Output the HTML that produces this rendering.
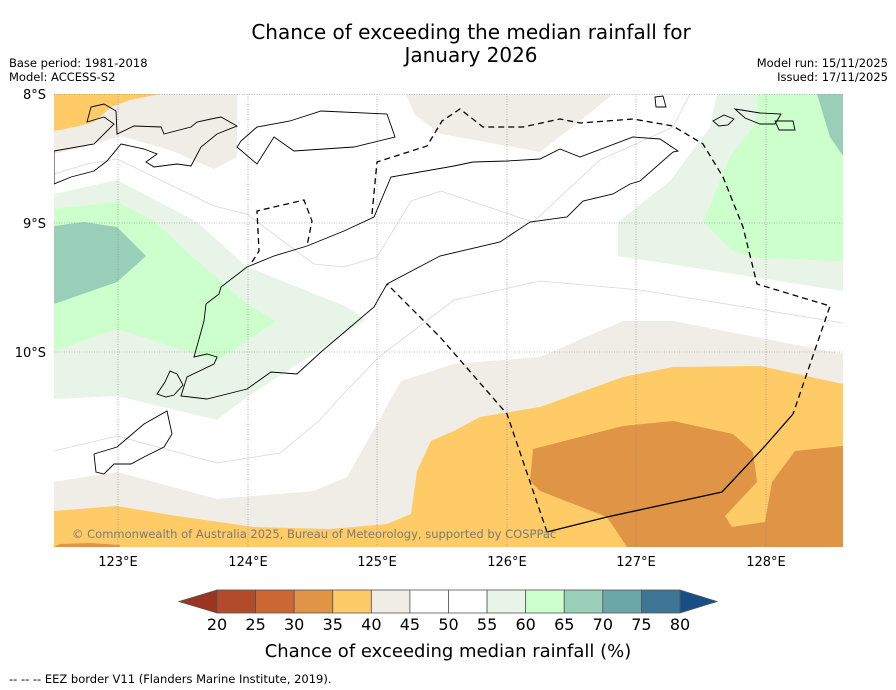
<!DOCTYPE html>
<html><head><meta charset="utf-8"><style>
body{margin:0;background:#fff;width:896px;height:690px;overflow:hidden;font-family:"Liberation Sans","DejaVu Sans",sans-serif}
svg{position:absolute;left:0;top:0}
</style></head><body>
<svg id="s" width="896" height="690" viewBox="0 0 896 690" xmlns="http://www.w3.org/2000/svg" font-family="DejaVu Sans, Liberation Sans, sans-serif">
<text x="471" y="39" text-anchor="middle" font-size="20">Chance of exceeding the median rainfall for</text>
<text x="471" y="62" text-anchor="middle" font-size="20">January 2026</text>
<text x="9" y="67" font-size="11.5">Base period: 1981-2018</text>
<text x="9" y="81" font-size="11.5">Model: ACCESS-S2</text>
<text x="888" y="67" font-size="11.5" text-anchor="end">Model run: 15/11/2025</text>
<text x="888" y="81" font-size="11.5" text-anchor="end">Issued: 17/11/2025</text>
<defs><clipPath id="mc"><rect x="54" y="94" width="789" height="453"/></clipPath></defs>
<g clip-path="url(#mc)">
<rect x="54" y="94" width="789" height="453" fill="#fff"/>
<polygon fill="#f0ece6" points="54,94 237,94 237,157 214,169 170,150 121,136 80,148 54,154"/>
<polygon fill="#fecb66" points="54,94 54,131 75,127 94,122 111,107 130,100 160,94"/>
<polygon fill="#f0ece6" points="406,94 415,115 441,134 540,152 575,125 613,94"/>
<polygon fill="#e8f4e8" points="54,194 117,180 197,222 247,267 347,307 366,320 247,397 217,420 117,396 54,399"/>
<polygon fill="#ccffcc" points="54,209 117,202 154,221 197,261 247,304 276,321 217,361 117,329 54,351"/>
<polygon fill="#99cfb8" points="54,226 84,222 117,227 146,256 117,282 54,304"/>
<polygon fill="#e8f4e8" points="717,94 710,127 670,181 618,222 618,256 843,291 843,94"/>
<polygon fill="#ccffcc" points="758,94 755,124 730,157 703,222 733,251 757,258 843,261 843,94"/>
<polygon fill="#99cfb8" points="817,94 830,137 843,156 843,94"/>
<polygon fill="#f0ece6" points="54,482 117,472 217,499 314,491 347,477 377,424 401,381 454,364 540,357 623,321 673,321 843,354 843,547 54,547"/>
<polygon fill="#fecb66" points="54,547 54,511 117,506 170,515 254,527 330,529 387,524 411,514 417,471 431,441 454,431 480,417 540,407 623,377 673,367 760,366 843,384 843,547"/>
<polygon fill="#e09445" points="533,449 623,426 673,421 733,434 753,452 757,482 725,516 732,527 765,522 772,482 795,451 843,446 843,547 627,547 607,517 540,491 530,481"/>
<polygon fill="#e09445" points="54,547 60,544 90,543 120,545 120,547"/>
<g fill="none" stroke="#d8d8d8" stroke-width="0.8">
<polyline points="54,174 87,164 117,159 214,206 247,214 287,244 314,264 344,267 377,257 411,201 441,191 533,222 600,160 673,127 690,94"/>
<polyline points="54,451 117,436 217,463 280,453 320,420 347,390 380,356 454,300 540,281 640,290 843,323"/>
</g>
<g stroke="#888" stroke-width="0.6" stroke-dasharray="1,1.5">
<line x1="118" y1="94" x2="118" y2="547"/><line x1="248" y1="94" x2="248" y2="547"/><line x1="377" y1="94" x2="377" y2="547"/>
<line x1="507" y1="94" x2="507" y2="547"/><line x1="636" y1="94" x2="636" y2="547"/><line x1="766" y1="94" x2="766" y2="547"/>
<line x1="54" y1="94.5" x2="843" y2="94.5"/><line x1="54" y1="223" x2="843" y2="223"/><line x1="54" y1="352" x2="843" y2="352"/>
</g>
<g fill="none" stroke="#000" stroke-width="0.9">
<polygon points="194,357 204,321 206,304 219,294 221,287 247,267 274,256 307,246 344,231 374,217 391,177 454,166 473,162 507,161 540,159 560,149 580,157 633,137 660,139 678,151 673,152 640,181 630,184 613,194 583,201 567,217 530,222 500,242 440,256 387,284 374,307 321,352 297,374 271,372 247,389 207,399 181,396 187,377 214,364 217,357 207,354"/>
<polygon points="157,394 165,382 170,371 177,374 183,385 174,395 166,397"/>
<polygon points="94,454 117,447 144,424 167,411 172,434 164,447 144,457 131,464 114,464 104,474 96,472"/>
<polygon points="54,151 94,144 104,134 114,124 104,117 87,122 91,107 104,104 116,111 117,134 134,126 161,127 164,134 191,127 197,122 211,119 221,117 237,126 217,134 201,147 191,166 177,164 154,167 146,162 157,154 144,149 121,144 107,161 94,171 71,177 54,184"/>
<polygon points="241,141 257,127 290,121 321,111 387,114 395,137 354,147 294,151 274,137 257,164 237,147"/>
<polygon points="713,121 724,115 734,119 728,125 719,126"/>
<polygon points="735,109 760,113 781,114 775,124 760,124 745,118"/>
<polygon points="775,121 793,121 795,130 779,130"/>
<polygon points="655,97 663,96 666,107 656,107"/>
</g>
<g fill="none" stroke="#000" stroke-width="1.3" stroke-dasharray="6,4">
<polyline points="252,262 259,251 257,211 304,200 312,221 307,246"/>
<polyline points="372,214 377,162 427,146 442,121 460,109 483,127 523,127 560,119 580,123 633,119 673,126 703,144 723,177 743,227 757,284 830,306 793,414"/>
<polyline points="547,532 507,414 440,337 387,284"/>
</g>
<polyline fill="none" stroke="#000" stroke-width="1.3" points="793,414 765,446 722,492 607,517 547,532"/>
<text x="72" y="538" font-size="11.5" fill="#7a7a7a">© Commonwealth of Australia 2025, Bureau of Meteorology, supported by COSPPac</text>
</g>
<g font-size="13">
<text x="46" y="99" text-anchor="end">8°S</text><text x="46" y="228" text-anchor="end">9°S</text><text x="46" y="357" text-anchor="end">10°S</text>
</g>
<g font-size="13" text-anchor="middle">
<text x="118" y="566">123°E</text><text x="248" y="566">124°E</text><text x="377" y="566">125°E</text><text x="507" y="566">126°E</text><text x="636" y="566">127°E</text><text x="766" y="566">128°E</text>
</g>
<g id="cbar"></g>
<text x="448" y="657" text-anchor="middle" font-size="18">Chance of exceeding median rainfall (%)</text>
<text x="9" y="683" font-size="11.5">--  --  -- EEZ border V11 (Flanders Marine Institute, 2019).</text>
</svg>
<script>
const levels=[20,25,30,35,40,45,50,55,60,65,70,75,80];
const binColors=["#b34a2a","#cc6633","#e09445","#fecb66","#f0ece6","#ffffff","#ffffff","#e8f4e8","#ccffcc","#99cfb8","#6aa5a7","#3e7595"];
const underColor="#9a3520", overColor="#164f86";
const NS="http://www.w3.org/2000/svg";
const g=document.getElementById('cbar');
const x0=217,x1=680,y0=590,y1=613;
function xs(v){return x0+(v-levels[0])/(levels[levels.length-1]-levels[0])*(x1-x0);}
const lt=document.createElementNS(NS,'polygon');
lt.setAttribute('points',`${x0},${y0} ${x0},${y1} 179,${(y0+y1)/2}`);lt.setAttribute('fill',underColor);lt.setAttribute('stroke','#555');lt.setAttribute('stroke-width','0.8');


g.appendChild(lt);
const rt=document.createElementNS(NS,'polygon');
rt.setAttribute('points',`${x1},${y0} ${x1},${y1} 717,${(y0+y1)/2}`);rt.setAttribute('fill',overColor);rt.setAttribute('stroke','#555');rt.setAttribute('stroke-width','0.8');


g.appendChild(rt);
binColors.forEach((c,i)=>{
 const r=document.createElementNS(NS,'rect');
 r.setAttribute('x',xs(levels[i]));r.setAttribute('y',y0);r.setAttribute('width',xs(levels[i+1])-xs(levels[i]));r.setAttribute('height',y1-y0);
 r.setAttribute('fill',c);r.setAttribute('stroke','#555');r.setAttribute('stroke-width','0.8');
 
 
 g.appendChild(r);
});
levels.forEach(v=>{
 const t=document.createElementNS(NS,'text');
 t.setAttribute('x',xs(v));t.setAttribute('y',630);t.setAttribute('text-anchor','middle');t.setAttribute('font-size','16');
 t.textContent=v;
 
 
 g.appendChild(t);
});
</script>
</body></html>
